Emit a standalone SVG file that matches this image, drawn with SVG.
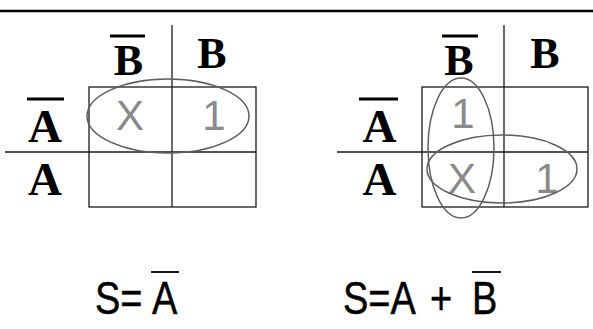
<svg xmlns="http://www.w3.org/2000/svg" width="593" height="329" viewBox="0 0 593 329">
<style>
.g{stroke:#1a1a1a;stroke-width:1.3;fill:none}
.bar{stroke:#000;stroke-width:3}
.fbar{stroke:#000;stroke-width:1.8}
.lbl{font-weight:bold;fill:#000;text-anchor:middle}
.b{font-size:44px}
.a{font-size:47px}
.cell{font-size:42px;fill:#8a8a8a;text-anchor:middle}
.ov{fill:none;stroke:#5e5e5e;stroke-width:1.5}
.f{font-size:38px;fill:#000;stroke:#000;stroke-width:0.4}
</style>
<rect width="593" height="329" fill="#fff"/>
<line x1="0" y1="11" x2="593" y2="11" stroke="#000" stroke-width="2.5"/>
<g id="kmap-left">
  <line class="g" x1="172" y1="25" x2="172" y2="207"/>
  <line class="g" x1="5" y1="152" x2="256" y2="152"/>
  <rect class="g" x="89" y="87" width="167" height="120"/>
  <g font-family="Times New Roman, Liberation Serif, serif">
  <text class="lbl b" x="128.5" y="75">B</text>
  <text class="lbl b" x="212" y="68">B</text>
  <text class="lbl a" x="45" y="142">A</text>
  <text class="lbl a" x="45" y="195">A</text>
  </g>
  <line class="bar" x1="110" y1="36" x2="145" y2="36"/>
  <line class="bar" x1="27" y1="99" x2="64" y2="99"/>
  <g font-family="Arial, Liberation Sans, Helvetica, sans-serif">
  <text class="cell" x="130" y="130">X</text>
  <text class="cell" x="214" y="130">1</text>
  </g>
  <ellipse class="ov" cx="168" cy="116" rx="81" ry="37"/>
</g>
<g id="kmap-right">
  <line class="g" x1="504" y1="25" x2="504" y2="207"/>
  <line class="g" x1="337" y1="152" x2="588" y2="152"/>
  <rect class="g" x="422" y="87" width="166" height="120"/>
  <g font-family="Times New Roman, Liberation Serif, serif">
  <text class="lbl b" x="459" y="75">B</text>
  <text class="lbl b" x="545" y="68">B</text>
  <text class="lbl a" x="379.5" y="142">A</text>
  <text class="lbl a" x="379.5" y="195">A</text>
  </g>
  <line class="bar" x1="442" y1="36" x2="478" y2="36"/>
  <line class="bar" x1="359" y1="99" x2="398" y2="99"/>
  <g font-family="Arial, Liberation Sans, Helvetica, sans-serif">
  <text class="cell" x="463" y="128">1</text>
  <text class="cell" x="462" y="193">X</text>
  <text class="cell" x="547" y="193">1</text>
  </g>
  <ellipse class="ov" cx="461" cy="148" rx="33" ry="70"/>
  <ellipse class="ov" cx="502" cy="169" rx="75" ry="34"/>
</g>
<g id="formula-left" font-family="Arial, Liberation Sans, Helvetica, sans-serif">
  <text class="f" transform="translate(95,314) scale(1,1.2)" x="0" y="0">S=</text>
  <text class="f" transform="translate(152,314) scale(1,1.2)" x="0" y="0">A</text>
  <line class="fbar" x1="151" y1="272" x2="179" y2="272"/>
</g>
<g id="formula-right" font-family="Arial, Liberation Sans, Helvetica, sans-serif">
  <text class="f" transform="translate(343,314) scale(1,1.2)" x="0" y="0">S=A</text>
  <text class="f" transform="translate(430,314) scale(1,1.2)" x="0" y="0">+</text>
  <text class="f" transform="translate(472,314) scale(1,1.2)" x="0" y="0">B</text>
  <line class="fbar" x1="472" y1="272" x2="501" y2="272"/>
</g>
</svg>
